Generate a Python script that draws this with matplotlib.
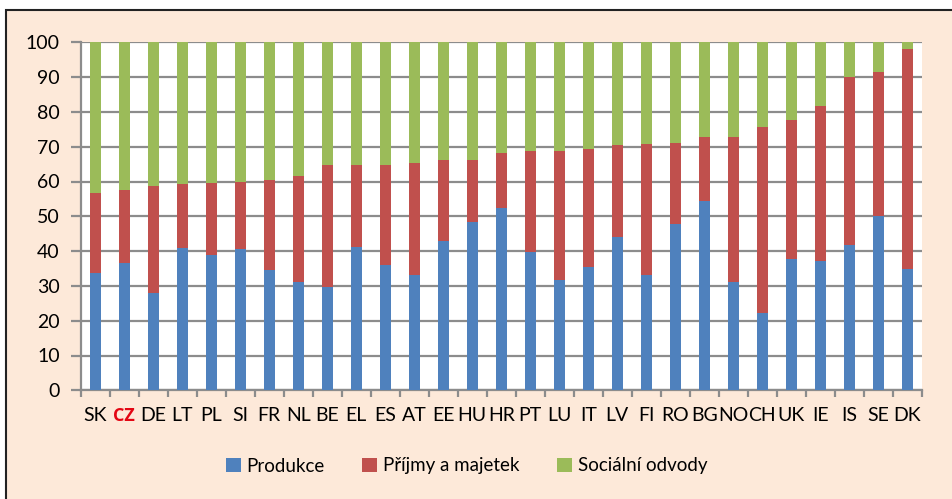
import matplotlib
matplotlib.use("Agg")
import matplotlib.pyplot as plt
from matplotlib.patches import Rectangle
import numpy as np

countries = ["SK", "CZ", "DE", "LT", "PL", "SI", "FR", "NL", "BE", "EL", "ES", "AT", "EE", "HU",
             "HR", "PT", "LU", "IT", "LV", "FI", "RO", "BG", "NO", "CH", "UK", "IE", "IS", "SE", "DK"]
produkce = [33.8, 36.5, 27.9, 40.9, 38.9, 40.5, 34.5, 31.1, 29.7, 41.1, 35.9, 33.0, 42.8, 48.4,
            52.4, 39.6, 31.6, 35.3, 44.0, 33.0, 47.7, 54.3, 31.0, 22.1, 37.7, 37.2, 41.7, 50.0, 34.8]
prijmy_cum = [56.7, 57.7, 58.8, 59.4, 59.7, 60.0, 60.5, 61.5, 64.8, 64.8, 64.8, 65.4, 66.2, 66.3,
              68.3, 68.7, 68.8, 69.4, 70.6, 70.8, 71.1, 72.9, 72.9, 75.6, 77.7, 81.8, 90.1, 91.6, 98.0]
prijmy = [round(c - p, 1) for c, p in zip(prijmy_cum, produkce)]
socialni = [round(100 - c, 1) for c in prijmy_cum]
series_names = ["Produkce", "Příjmy a majetek", "Sociální odvody"]
colors = ["#4F81BD", "#C0504D", "#9BBB59"]

plt.rcParams['font.family'] = ['Lato', 'DejaVu Sans']

W, H = 952, 499
fig = plt.figure(figsize=(W / 100, H / 100), dpi=100)
fig.patch.set_facecolor("white")
# outer frame
frame = Rectangle((6 / W, -0.05), 1.0, (H - 10) / H + 0.05, transform=fig.transFigure,
                  facecolor="#FDE9D9", edgecolor="#222222", linewidth=1.5, zorder=-10)
fig.patches.append(frame)

left, right = 80.7 / W, 921.7 / W
bottom, top = (H - 390.3) / H, (H - 42.3) / H
ax = fig.add_axes([left, bottom, right - left, top - bottom])
ax.set_facecolor("white")

x = np.arange(len(countries))
w = 0.39
b1 = ax.bar(x, produkce, w, color=colors[0], zorder=3, label=series_names[0])
b2 = ax.bar(x, prijmy, w, bottom=produkce, color=colors[1], zorder=3, label=series_names[1])
b3 = ax.bar(x, socialni, w, bottom=prijmy_cum, color=colors[2], zorder=3, label=series_names[2])

ax.set_xlim(-0.5, len(countries) - 0.5)
ax.set_ylim(0, 100)
ax.set_yticks(np.arange(0, 101, 10))
ax.yaxis.grid(True, color="#8C8C8C", linewidth=1.6, zorder=1)
ax.set_axisbelow(True)

for s in ["top", "right"]:
    ax.spines[s].set_visible(False)
for s in ["left", "bottom"]:
    ax.spines[s].set_color("#8C8C8C")
    ax.spines[s].set_linewidth(1.6)

ax.set_xticks(x)
ax.set_xticklabels(countries)
ax.set_xticks(np.arange(-0.5, len(countries), 1), minor=True)
ax.tick_params(axis="x", which="major", length=0, pad=12, labelsize=14, colors="black")
ax.tick_params(axis="x", which="minor", length=5, width=1.6, color="#8C8C8C")
ax.tick_params(axis="y", length=7, width=1.6, color="#8C8C8C", labelsize=14, pad=8,
               labelcolor="black")
for lab in ax.get_xticklabels():
    if lab.get_text() == "CZ":
        lab.set_color("#E30613")
        lab.set_family(["Open Sans", "DejaVu Sans"])
        lab.set_fontweight("bold")
        lab.set_fontsize(13)

leg = fig.legend(handles=[b1, b2, b3], labels=series_names, loc="center",
                 bbox_to_anchor=(466.5 / W, (H - 466) / H), ncol=3, frameon=False,
                 fontsize=13.5, handlelength=0.8, handleheight=0.8, handletextpad=0.3,
                 columnspacing=2.0)

fig.savefig("out.png", dpi=100, facecolor=fig.get_facecolor())
